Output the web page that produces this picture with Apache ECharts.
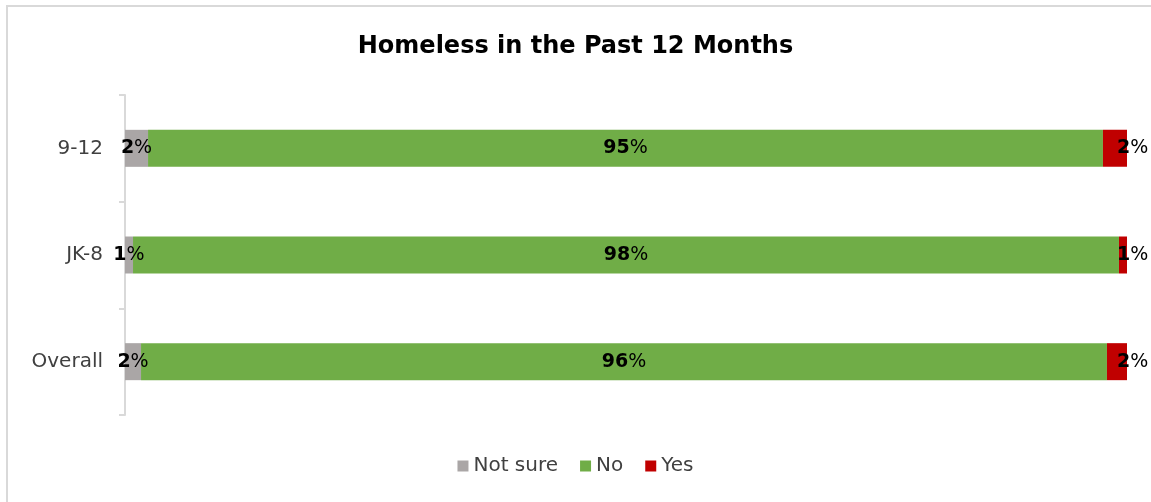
<!DOCTYPE html>
<html>
<head>
<meta charset="utf-8">
<script src="https://cdn.jsdelivr.net/npm/echarts@6/dist/echarts.min.js"></script>
<style>
  html, body { margin: 0; padding: 0; background: #fff; }
  #frame { position: absolute; left: 6px; top: 5px; width: 1200px; height: 600px;
           border-left: 2px solid #d9d9d9; border-top: 2px solid #d9d9d9; box-sizing: border-box; }
  #chart { position: absolute; left: 0; top: 0; width: 1151px; height: 502px; }
</style>
</head>
<body>
<div id="frame"></div>
<div id="chart"></div>
<script>
// Grade groups, listed bottom to top as ECharts draws a category y axis
const categories = ['Overall', 'JK-8', '9-12'];
// Share of students answering each option (percent)
const notSure = [1.6, 0.8, 2.3];
const no = [96.4, 98.4, 95.3];
const yes = [2.0, 0.8, 2.4];

const FONT = '"DejaVu Sans", "Open Sans", sans-serif';

function pctLabel(p) {
  return '{b|' + Math.round(p.value) + '}{r|%}';
}
const rich = {
  b: { fontFamily: FONT, fontSize: 19, fontWeight: 'bold', color: '#000' },
  r: { fontFamily: FONT, fontSize: 19, fontWeight: 'normal', color: '#000' }
};

const chart = echarts.init(document.getElementById('chart'), null, { renderer: 'canvas' });
chart.setOption({
  animation: false,
  backgroundColor: 'transparent',
  title: {
    text: 'Homeless in the Past 12 Months',
    left: 'center',
    top: 30,
    textStyle: { fontFamily: FONT, fontSize: 24, fontWeight: 'bold', color: '#000' }
  },
  legend: {
    bottom: 21,
    left: 'center',
    itemWidth: 11,
    itemHeight: 11,
    itemGap: 22,
    icon: 'rect',
    textStyle: { fontFamily: FONT, fontSize: 20, color: '#404040' },
    data: ['Not sure', 'No', 'Yes']
  },
  grid: { left: 125, right: 24, top: 95, bottom: 87 },
  xAxis: {
    type: 'value', min: 0, max: 100, show: false
  },
  yAxis: {
    type: 'category',
    data: categories,
    axisLine: { lineStyle: { color: '#d9d9d9', width: 2 } },
    axisTick: { show: true, length: 6, lineStyle: { color: '#d9d9d9', width: 2 } },
    axisLabel: { fontFamily: FONT, fontSize: 20, color: '#404040', margin: 22 }
  },
  series: [
    {
      name: 'Not sure', type: 'bar', stack: 'total', barWidth: 37,
      itemStyle: { color: '#aaa6a6' },
      label: { show: true, position: 'inside', formatter: pctLabel, rich: rich },
      data: notSure
    },
    {
      name: 'No', type: 'bar', stack: 'total',
      itemStyle: { color: '#70ad47' },
      label: { show: true, position: 'inside', formatter: pctLabel, rich: rich },
      data: no
    },
    {
      name: 'Yes', type: 'bar', stack: 'total',
      itemStyle: { color: '#c00000' },
      label: { show: true, position: 'right', distance: 0, offset: [-10, 0], formatter: pctLabel, rich: rich },
      data: yes
    }
  ]
});
</script>
</body>
</html>
